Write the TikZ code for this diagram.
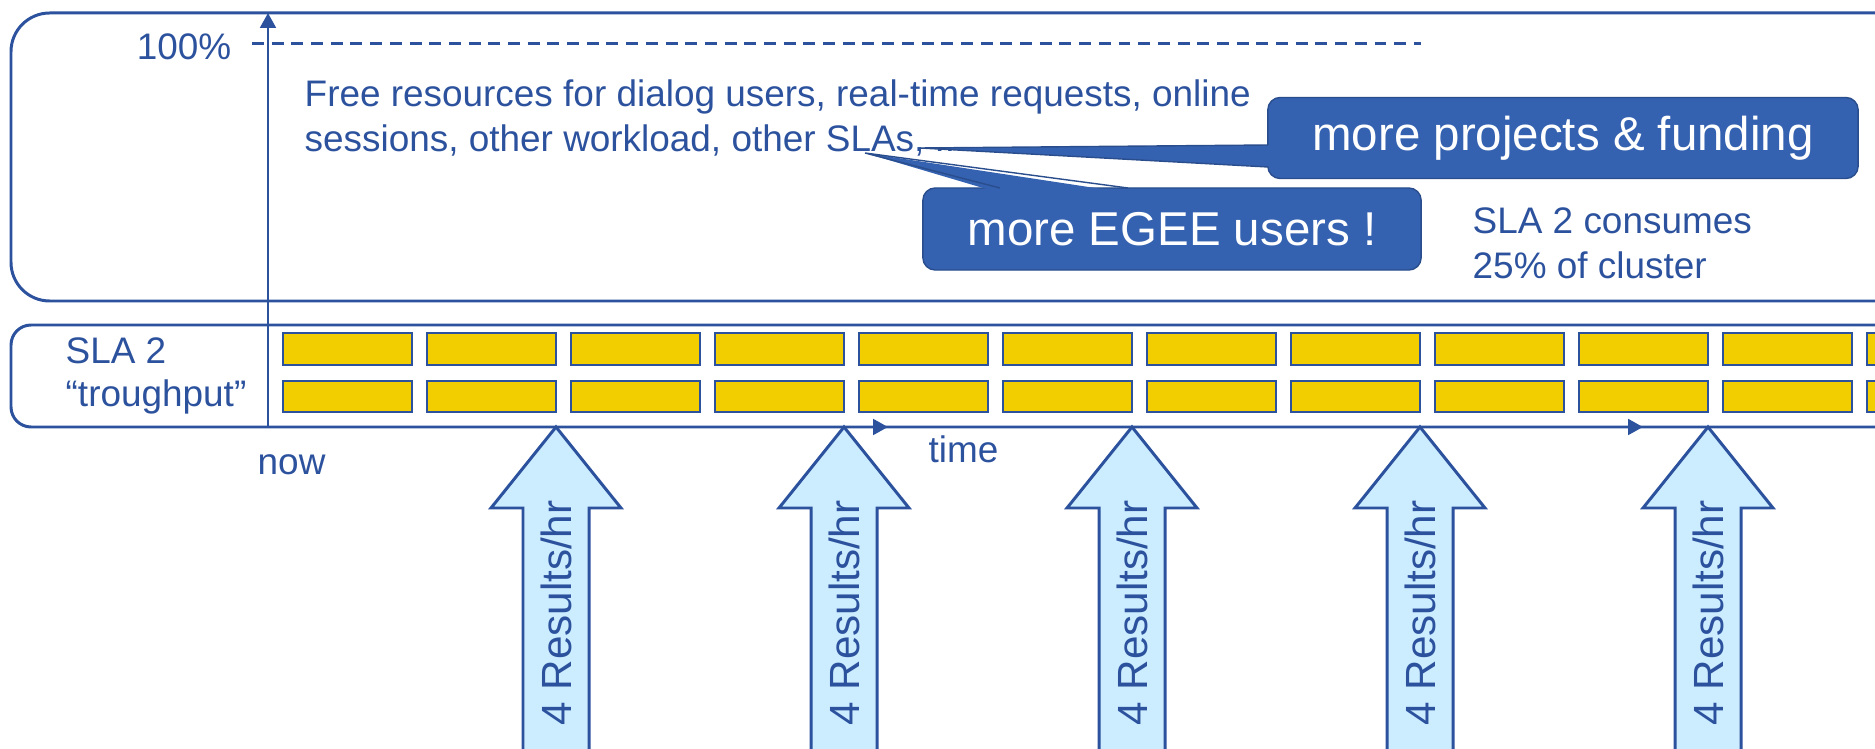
\documentclass[tikz,border=0pt]{standalone}
\usepackage{fontspec}
\setmainfont{Liberation Sans}
\usetikzlibrary{arrows.meta}

\definecolor{slablue}{RGB}{44,82,158}
\definecolor{calloutblue}{RGB}{52,97,176}
\definecolor{baryellow}{RGB}{242,205,0}
\definecolor{arrowfill}{RGB}{204,236,255}

\tikzset{
  frame/.style={draw=slablue, line width=0.85pt},
  bar/.style={draw=slablue, fill=baryellow, line width=0.75pt},
  axis/.style={draw=slablue, line width=0.85pt, -{Triangle[length=4.2pt,width=4.4pt]}},
  lbl/.style={text=slablue, font=\fontsize{10.5}{12.8}\selectfont, inner sep=0pt},
  bubble/.style={fill=calloutblue, draw=calloutblue!80!black, line width=0.4pt,
    rounded corners=3.5pt, text=white, font=\fontsize{13.5}{16}\selectfont},
  resarrow/.style={draw=slablue, fill=arrowfill, line width=0.85pt},
  restext/.style={text=slablue, font=\fontsize{12}{14}\selectfont, inner sep=0pt}
}

\begin{document}
\begin{tikzpicture}[x=0.01cm, y=-0.01cm]
  \useasboundingbox (0,0) rectangle (1875,749);
  \clip (0,0) rectangle (1875,749);

  % cluster frames
  \draw[frame, rounded corners=11pt] (1950,13) -- (11,13) -- (11,301) -- (1950,301);
  \draw[frame, rounded corners=5.7pt] (1950,325) -- (11,325) -- (11,427) -- (1950,427);

  % SLA 2 jobs
  \foreach \c in {0,...,11}
  {\draw[bar] ({283+144*\c},333) rectangle ++(129,32);
   \draw[bar] ({283+144*\c},381) rectangle ++(129,31);}

  % axes
  \coordinate (O) at (268,427);
  \coordinate (ytop) at (268,13);
  \coordinate (t1) at (888,427);
  \coordinate (t2s) at (1019,427);
  \coordinate (t2) at (1643,427);
  \draw[axis] (O) -- (ytop);
  \draw[axis] (O) -- (t1);
  \draw[axis] (t2s) -- (t2);

  \node[lbl, anchor=east] (full) at (232,47) {100\%};
  \draw[slablue, line width=0.85pt, dash pattern=on 3.4pt off 2.2pt] (252,44) -- (1421,44);

  % multi-line labels: base = last line
  \node[lbl, anchor=base west, align=left] (free) at (304,152)
    {Free resources for dialog users, real-time requests, online\\sessions, other workload, other SLAs, ...};
  \node[lbl, anchor=base west, align=left] (share) at (1472,279) {SLA 2 consumes\\25\% of cluster};
  \node[lbl, anchor=base west, align=left, font=\fontsize{10.5}{12.5}\selectfont] (sla) at (65,407) {SLA 2\\“troughput”};
  \node[lbl, anchor=base west] (now) at (257,475) {now};
  \node[lbl, anchor=base west] (time) at (928,463) {time};

  % callouts
  \node[bubble, minimum width=5.9cm, minimum height=0.81cm] (projects) at (1563,138) {more projects \& funding};
  \coordinate (ptip) at (920,148);
  \coordinate (pa) at (1268,145);
  \coordinate (pb) at (1268,167);
  \fill[calloutblue] (ptip) -- (1273,145) -- (1273,167) -- cycle;
  \draw[calloutblue!80!black, line width=0.4pt] (pa) -- (ptip) -- (pb);

  \node[bubble, minimum width=4.98cm, minimum height=0.82cm] (egee) at (1172,229) {more EGEE users !};
  \coordinate (etip) at (865,153);
  \coordinate (ea) at (1000,188);
  \coordinate (eb) at (1128,188);
  \fill[calloutblue] (etip) -- (1000,193) -- (1128,193) -- cycle;
  \draw[calloutblue!80!black, line width=0.4pt] (ea) -- (etip) -- (eb);

  % results per hour
  \foreach \x [count=\i] in {556,844,1132,1420,1708}
  {\draw[resarrow] (\x,427) -- ({\x+65},508) -- ({\x+33},508) -- ({\x+33},800)
     -- ({\x-33},800) -- ({\x-33},508) -- ({\x-65},508) -- cycle;
   \node[restext, rotate=90] (res\i) at (\x,613) {4 Results/hr};}
\end{tikzpicture}
\end{document}
